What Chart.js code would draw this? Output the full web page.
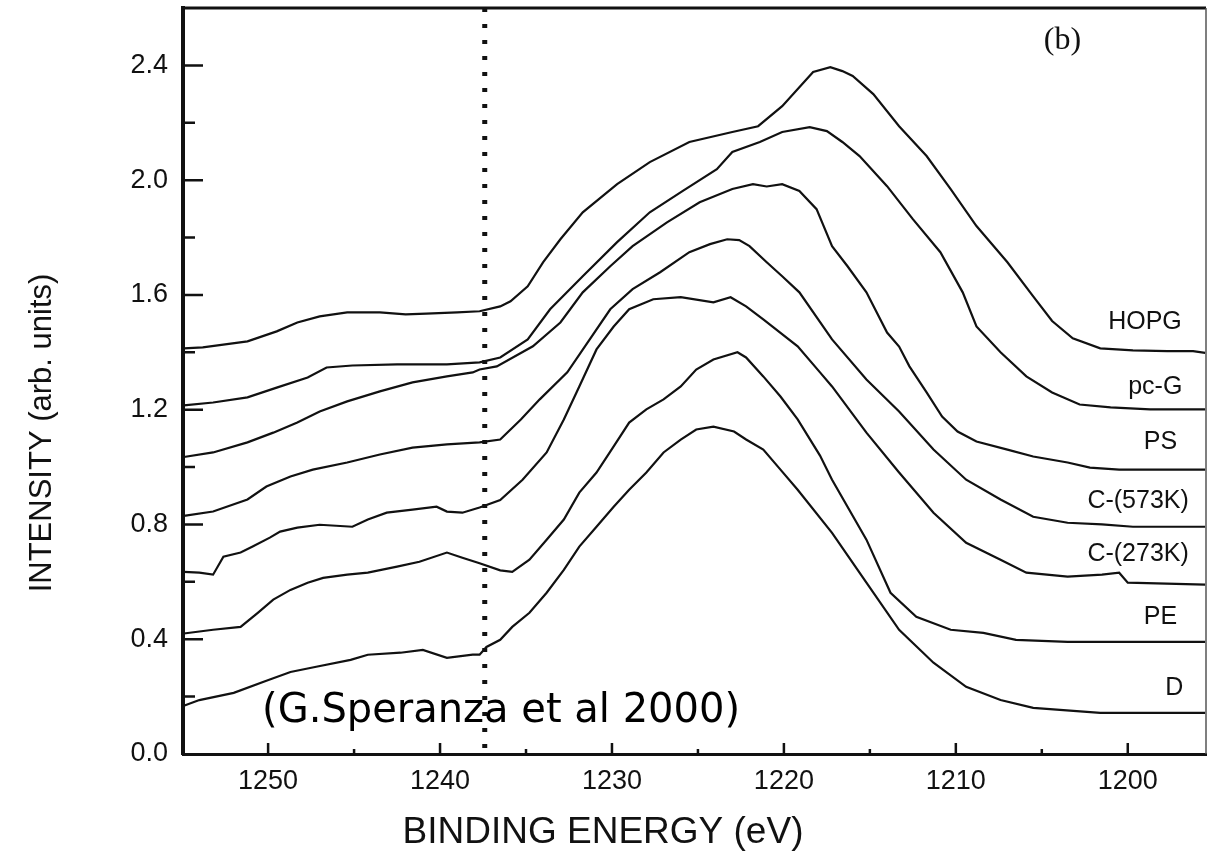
<!DOCTYPE html>
<html><head><meta charset="utf-8">
<script src="https://cdn.jsdelivr.net/npm/chart.js@4.4.0/dist/chart.umd.min.js"></script>
<style>html,body{margin:0;padding:0;background:#fff;}canvas{display:block;}</style>
</head><body>
<canvas id="c" width="1209" height="858"></canvas>
<script>
// [binding energy (eV), intensity (arb. units)]
const hopg = [[1254.9,1.414],[1253.8,1.417],[1251.2,1.438],[1249.5,1.473],[1248.3,1.504],[1247.0,1.525],[1245.4,1.539],[1243.5,1.539],[1242.0,1.532],[1240.8,1.535],[1239.0,1.539],[1237.7,1.543],[1236.5,1.560],[1235.9,1.578],[1234.9,1.630],[1234.0,1.714],[1233.0,1.794],[1231.7,1.888],[1229.7,1.986],[1227.8,2.063],[1225.5,2.133],[1223.0,2.168],[1221.5,2.188],[1220.1,2.258],[1218.3,2.377],[1217.3,2.394],[1216.6,2.380],[1216.0,2.363],[1214.8,2.300],[1213.3,2.188],[1211.7,2.084],[1210.3,1.969],[1208.8,1.840],[1207.0,1.714],[1205.5,1.595],[1204.4,1.509],[1203.2,1.449],[1201.6,1.414],[1199.7,1.407],[1197.7,1.404],[1196.2,1.404],[1195.5,1.398]];
const pcG = [[1254.9,1.215],[1253.2,1.225],[1251.2,1.243],[1249.5,1.277],[1247.7,1.312],[1246.6,1.347],[1245.1,1.354],[1242.5,1.358],[1239.6,1.358],[1237.7,1.365],[1236.5,1.382],[1234.9,1.445],[1233.6,1.550],[1231.7,1.665],[1229.7,1.784],[1227.8,1.888],[1225.9,1.962],[1223.9,2.038],[1223.0,2.098],[1221.4,2.133],[1220.1,2.168],[1218.5,2.185],[1217.5,2.171],[1216.6,2.133],[1215.6,2.084],[1214.0,1.979],[1212.5,1.864],[1210.9,1.749],[1209.6,1.609],[1208.8,1.490],[1207.4,1.400],[1205.9,1.316],[1204.4,1.260],[1202.8,1.218],[1201.0,1.208],[1198.7,1.201],[1195.5,1.201]];
const ps = [[1254.9,1.035],[1253.2,1.051],[1251.2,1.086],[1249.7,1.120],[1248.3,1.155],[1247.0,1.194],[1245.4,1.229],[1243.5,1.264],[1241.6,1.295],[1239.6,1.316],[1238.1,1.330],[1237.7,1.340],[1236.7,1.351],[1234.6,1.421],[1233.0,1.504],[1231.7,1.609],[1230.1,1.700],[1228.8,1.770],[1226.8,1.853],[1224.9,1.923],[1223.0,1.969],[1221.8,1.986],[1221.0,1.978],[1220.1,1.986],[1219.1,1.962],[1218.1,1.899],[1217.2,1.770],[1216.3,1.700],[1215.2,1.609],[1214.0,1.469],[1213.3,1.420],[1212.7,1.351],[1211.7,1.260],[1210.8,1.176],[1209.9,1.124],[1208.8,1.089],[1207.0,1.061],[1205.5,1.037],[1203.5,1.016],[1202.2,0.998],[1200.5,0.991],[1195.5,0.991]];
const c573 = [[1254.9,0.830],[1253.2,0.845],[1251.2,0.887],[1250.1,0.932],[1248.7,0.967],[1247.4,0.991],[1245.4,1.016],[1243.5,1.044],[1241.6,1.068],[1239.6,1.079],[1237.7,1.086],[1236.5,1.096],[1235.3,1.166],[1234.2,1.236],[1232.6,1.330],[1230.1,1.550],[1228.8,1.620],[1227.2,1.679],[1225.5,1.749],[1224.3,1.777],[1223.3,1.794],[1222.6,1.791],[1222.0,1.770],[1221.0,1.714],[1220.1,1.665],[1219.1,1.609],[1217.2,1.445],[1215.2,1.305],[1213.3,1.194],[1211.3,1.061],[1209.4,0.956],[1207.4,0.887],[1205.5,0.827],[1203.5,0.806],[1201.5,0.800],[1199.7,0.792],[1195.5,0.792]];
const c273 = [[1254.9,0.635],[1254.0,0.632],[1253.2,0.625],[1252.6,0.688],[1251.6,0.702],[1250.9,0.723],[1249.9,0.754],[1249.3,0.775],[1248.3,0.789],[1247.0,0.799],[1245.1,0.792],[1244.2,0.817],[1243.1,0.841],[1241.6,0.852],[1240.2,0.862],[1239.6,0.845],[1238.7,0.841],[1237.7,0.859],[1236.5,0.885],[1235.2,0.956],[1233.8,1.051],[1232.8,1.166],[1231.9,1.281],[1230.9,1.410],[1229.9,1.490],[1229.0,1.550],[1227.6,1.585],[1226.0,1.592],[1224.1,1.574],[1223.1,1.592],[1222.2,1.560],[1221.2,1.515],[1219.2,1.421],[1217.9,1.330],[1217.2,1.281],[1215.2,1.120],[1213.3,0.981],[1211.3,0.841],[1209.4,0.736],[1207.4,0.677],[1205.9,0.632],[1203.5,0.618],[1201.5,0.625],[1200.5,0.632],[1200.0,0.597],[1195.5,0.590]];
const pe = [[1254.9,0.420],[1253.2,0.433],[1251.6,0.443],[1250.6,0.492],[1249.7,0.538],[1248.7,0.572],[1247.7,0.597],[1246.8,0.614],[1245.4,0.625],[1244.2,0.632],[1242.5,0.653],[1241.2,0.670],[1239.6,0.702],[1238.7,0.684],[1237.7,0.665],[1236.5,0.640],[1235.8,0.635],[1234.8,0.677],[1233.8,0.747],[1232.8,0.817],[1231.9,0.911],[1230.9,0.981],[1229.9,1.072],[1229.0,1.155],[1228.0,1.201],[1227.0,1.236],[1226.0,1.281],[1225.1,1.340],[1224.1,1.375],[1222.7,1.400],[1222.2,1.382],[1221.2,1.316],[1220.2,1.246],[1219.2,1.166],[1217.9,1.040],[1217.2,0.956],[1215.2,0.747],[1213.8,0.562],[1212.3,0.478],[1210.3,0.433],[1208.4,0.422],[1206.5,0.398],[1203.5,0.391],[1195.5,0.391]];
const diamond = [[1254.9,0.168],[1254.0,0.188],[1252.0,0.213],[1250.1,0.255],[1248.7,0.286],[1247.2,0.304],[1245.2,0.328],[1244.2,0.346],[1242.3,0.353],[1241.0,0.363],[1239.6,0.335],[1238.1,0.346],[1237.7,0.346],[1237.3,0.373],[1236.5,0.398],[1235.8,0.443],[1234.8,0.492],[1233.8,0.562],[1232.8,0.642],[1231.9,0.723],[1230.9,0.792],[1229.9,0.862],[1229.0,0.921],[1228.0,0.981],[1227.0,1.051],[1226.0,1.096],[1225.1,1.131],[1224.1,1.141],[1222.9,1.124],[1222.2,1.096],[1221.2,1.061],[1220.2,0.991],[1219.2,0.921],[1217.2,0.771],[1215.2,0.597],[1213.3,0.433],[1211.3,0.318],[1209.4,0.234],[1207.4,0.188],[1205.5,0.161],[1201.6,0.143],[1195.5,0.143]];

const seriesNames = ['HOPG','pc-G','PS','C-(573K)','C-(273K)','PE','D'];
const labelEnergy = [1199.0, 1198.4, 1198.1, 1199.4, 1199.4, 1198.1, 1197.3];
const labelIntensity = [1.504, 1.277, 1.086, 0.880, 0.695, 0.478, 0.230];
const markerEnergy = 1237.4;
const citation = '(G.Speranza et al 2000)';
const citationAt = [1250.35, 0.112];
const panelTag = '(b)';
const panelTagAt = [1203.8, 2.485];

const toPts = arr => arr.map(p => ({x: p[0], y: p[1]}));
const allSeries = [hopg, pcG, ps, c573, c273, pe, diamond];

const datasets = allSeries.map((s, i) => ({
  label: seriesNames[i], data: toPts(s), borderColor: '#111', borderWidth: 2.2,
  pointRadius: 0, tension: 0, fill: false
}));
datasets.push({
  label: 'marker', data: [{x: markerEnergy, y: 2.6}, {x: markerEnergy, y: 0}],
  borderColor: '#111', borderWidth: 5, borderDash: [4, 12], borderCapStyle: 'butt',
  pointRadius: 0, fill: false
});

const framePlugin = {
  id: 'frame',
  afterDatasetsDraw(chart) {
    const {ctx, chartArea: a, scales: {x, y}} = chart;
    ctx.save();
    ctx.strokeStyle = '#111';
    ctx.lineWidth = 2.5;
    ctx.beginPath();
    y.ticks.forEach(t => {
      if (t.value > 2.5 || t.value < 0.05) return;
      const py = y.getPixelForValue(t.value);
      const major = Math.round(t.value * 10) % 4 === 0;
      ctx.moveTo(a.left, py); ctx.lineTo(a.left + (major ? 20 : 12), py);
    });
    x.ticks.forEach(t => {
      const px = x.getPixelForValue(t.value);
      const major = Math.round(t.value) % 10 === 0;
      ctx.moveTo(px, a.bottom); ctx.lineTo(px, a.bottom - (major ? 11 : 5));
    });
    ctx.stroke();
    ctx.lineWidth = 3;
    ctx.beginPath(); ctx.moveTo(a.left, a.top); ctx.lineTo(a.right, a.top); ctx.stroke();
    ctx.strokeStyle = '#555'; ctx.lineWidth = 1.5;
    ctx.beginPath(); ctx.moveTo(a.right, a.top); ctx.lineTo(a.right, a.bottom); ctx.stroke();

    ctx.fillStyle = '#111';
    ctx.font = '25px "Liberation Sans"';
    ctx.textAlign = 'center'; ctx.textBaseline = 'middle';
    seriesNames.forEach((n, i) => ctx.fillText(n, x.getPixelForValue(labelEnergy[i]), y.getPixelForValue(labelIntensity[i])));

    ctx.font = '32px "Liberation Serif"';
    ctx.fillText(panelTag, x.getPixelForValue(panelTagAt[0]), y.getPixelForValue(panelTagAt[1]));

    ctx.fillStyle = '#000';
    ctx.font = '40px "DejaVu Sans"';
    ctx.textAlign = 'left'; ctx.textBaseline = 'alphabetic';
    ctx.fillText(citation, x.getPixelForValue(citationAt[0]), y.getPixelForValue(citationAt[1]));
    ctx.restore();
  }
};

new Chart(document.getElementById('c'), {
  type: 'line',
  data: {datasets},
  options: {
    responsive: false, animation: false, devicePixelRatio: 1,
    layout: {padding: {top: 8, right: 3, left: 0, bottom: 0}},
    plugins: {
      legend: {display: false}, tooltip: {enabled: false},
      title: {display: true, position: 'bottom', text: 'BINDING ENERGY (eV)', color: '#111',
        font: {family: 'Liberation Sans', size: 37, weight: 'normal', lineHeight: 1}, padding: {top: 0, bottom: 7}},
      subtitle: {display: true, position: 'left', text: 'INTENSITY (arb. units)', color: '#111',
        font: {family: 'Liberation Sans', size: 31, weight: 'normal', lineHeight: 1}, padding: {top: 27, bottom: 0}}
    },
    scales: {
      x: {
        type: 'linear', reverse: true, min: 1195.45, max: 1254.95,
        grid: {display: false, drawTicks: false},
        border: {display: true, width: 3, color: '#111'},
        ticks: {stepSize: 5, includeBounds: false, autoSkip: false, maxRotation: 0, padding: 11, color: '#111',
          font: {family: 'Liberation Sans', size: 27},
          callback: v => (Math.round(v) % 10 === 0 ? String(Math.round(v)) : '')},
        afterFit: s => { s.height = 60; s.paddingLeft = 0; s.paddingRight = 0; }
      },
      y: {
        type: 'linear', min: 0, max: 2.6,
        grid: {display: false, drawTicks: false},
        border: {display: true, width: 4, color: '#111'},
        ticks: {stepSize: 0.2, includeBounds: false, autoSkip: false, padding: 15, color: '#111',
          font: {family: 'Liberation Sans', size: 27},
          callback: v => { const r = Math.round(v * 10); return r % 4 === 0 ? (r / 10).toFixed(1) : ''; }},
        afterFit: s => { s.width = 125; s.paddingTop = 0; s.paddingBottom = 0; }
      }
    }
  },
  plugins: [framePlugin]
});
</script>
</body></html>
